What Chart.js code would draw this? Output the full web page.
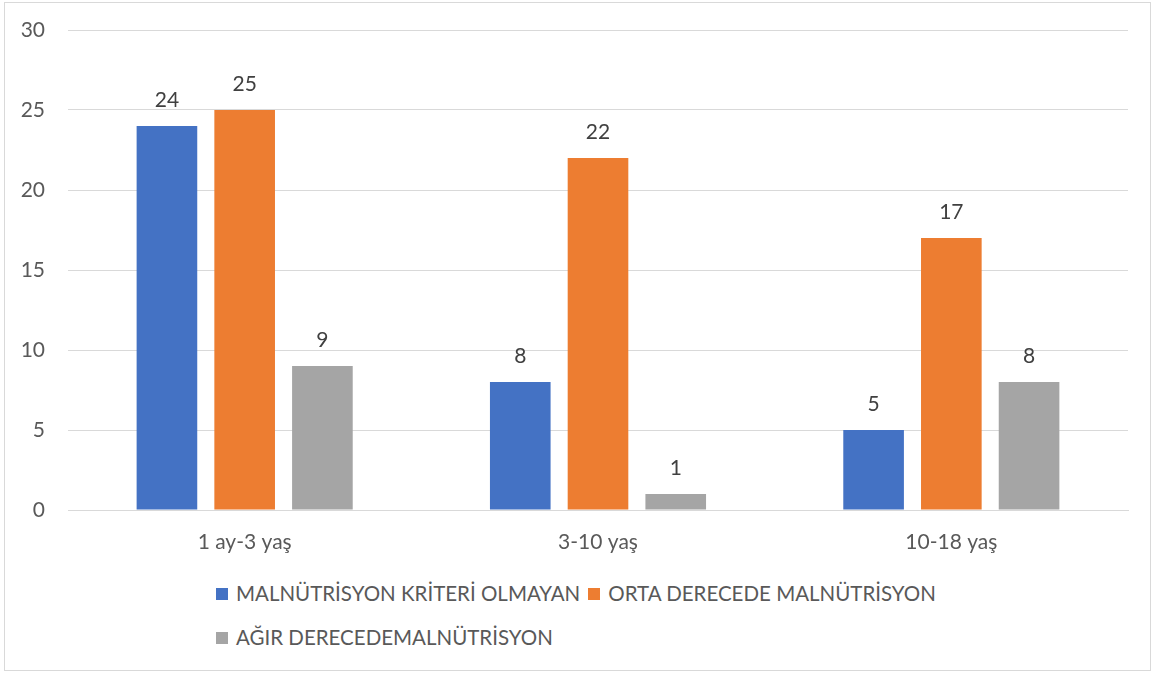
<!DOCTYPE html>
<html>
<head>
<meta charset="utf-8">
<script src="https://cdn.jsdelivr.net/npm/chart.js@4.4.1/dist/chart.umd.min.js"></script>
<style>
  body { margin: 0; background: #fff; }
  #frame { position: absolute; left: 4px; top: 2px; width: 1147px; height: 669px; border: 1px solid #d9d9d9; box-sizing: border-box; }
  #wrap { position: absolute; left: 0; top: 0; width: 1157px; height: 562px; }
  #legend { position: absolute; left: 216px; top: 579px; width: 900px; font-family: Lato, "Open Sans", sans-serif; font-size: 20.5px; color: #595959; }
  .row { height: 44px; line-height: 28px; white-space: nowrap; }
  .item { display: inline-block; margin-right: 8px; }
  .box { display: inline-block; width: 12px; height: 12px; margin-right: 8px; vertical-align: 1px; }
</style>
</head>
<body>
<div id="frame"></div>
<div id="wrap"><canvas id="grafico"></canvas></div>
<div id="legend"></div>
<script>
// dados do gráfico
var kategoriler = ['1 ay-3 yaş', '3-10 yaş', '10-18 yaş'];
var kriterOlmayan = [24, 8, 5];
var ortaDerece = [25, 22, 17];
var agirDerece = [9, 1, 8];
var seriAdlari = ['MALNÜTRİSYON KRİTERİ OLMAYAN', 'ORTA DERECEDE MALNÜTRİSYON', 'AĞIR DERECEDEMALNÜTRİSYON'];
var yTicks = [0, 5, 10, 15, 20, 25, 30];

var renkler = ['#4472C4', '#ED7D31', '#A5A5A5'];
var fontAile = 'Lato, "Open Sans", sans-serif';

// rótulos de valor acima das barras
var rotulos = {
    id: 'rotulos',
    afterDatasetsDraw: function(chart) {
        var ctx = chart.ctx;
        ctx.save();
        ctx.font = '21px ' + fontAile;
        ctx.fillStyle = '#404040';
        ctx.textAlign = 'center';
        ctx.textBaseline = 'alphabetic';
        chart.data.datasets.forEach(function(ds, i) {
            chart.getDatasetMeta(i).data.forEach(function(bar, j) {
                ctx.fillText(ds.data[j], bar.x, bar.y - 19);
            });
        });
        ctx.restore();
    }
};

var ctx = document.getElementById('grafico').getContext('2d');
var grafico = new Chart(ctx, {
    type: 'bar',
    data: {
        labels: kategoriler,
        datasets: [
            { label: seriAdlari[0], data: kriterOlmayan, backgroundColor: renkler[0] },
            { label: seriAdlari[1], data: ortaDerece, backgroundColor: renkler[1] },
            { label: seriAdlari[2], data: agirDerece, backgroundColor: renkler[2] }
        ]
    },
    options: {
        responsive: true,
        maintainAspectRatio: false,
        animation: false,
        datasets: { bar: { categoryPercentage: 0.66, barPercentage: 0.78 } },
        layout: { padding: { top: 30, right: 29, left: 0, bottom: 0 } },
        plugins: {
            legend: { display: false },
            tooltip: { enabled: false }
        },
        scales: {
            x: {
                grid: { display: false, drawTicks: false },
                border: { display: true, color: '#d9d9d9' },
                ticks: { color: '#595959', font: { family: fontAile, size: 21 }, padding: 20 },
                afterFit: function(s) { s.height = 52; s.paddingLeft = 0; s.paddingRight = 0; }
            },
            y: {
                min: 0, max: 30,
                afterBuildTicks: function(s) { s.ticks = yTicks.map(function(v) { return { value: v }; }); },
                grid: { color: '#d9d9d9', drawTicks: false },
                border: { display: false },
                ticks: { color: '#595959', font: { family: fontAile, size: 21 }, padding: 23 },
                afterFit: function(s) { s.width = 68; s.paddingTop = 0; s.paddingBottom = 0; }
            }
        }
    },
    plugins: [rotulos]
});

// legenda em HTML (duas linhas como no original)
var linhas = [[0, 1], [2]];
var leg = document.getElementById('legend');
linhas.forEach(function(l) {
    var row = document.createElement('div');
    row.className = 'row';
    l.forEach(function(i) {
        row.innerHTML += '<span class="item"><span class="box" style="background:' + renkler[i] + '"></span>' + seriAdlari[i] + '</span>';
    });
    leg.appendChild(row);
});
</script>
</body>
</html>
